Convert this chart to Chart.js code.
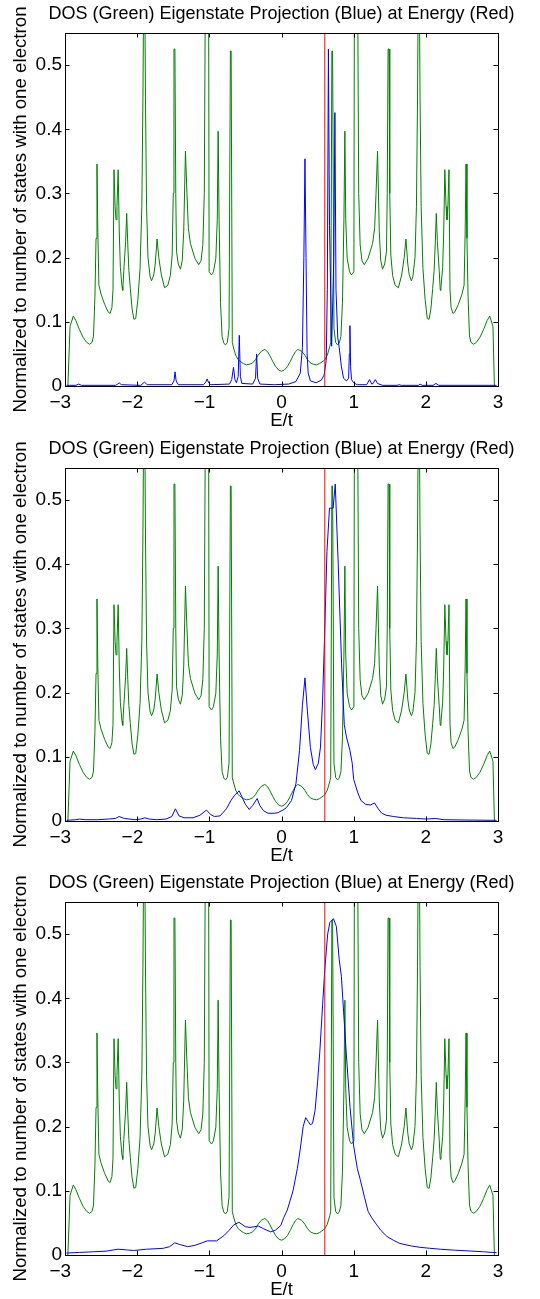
<!DOCTYPE html>
<html>
<head>
<meta charset="utf-8">
<script src="https://cdn.jsdelivr.net/npm/chart.js@4.4.1/dist/chart.umd.min.js"></script>
<style>
  html, body { margin: 0; padding: 0; background: #fff; }
  #wrap { position: relative; width: 540px; height: 1299px; overflow: hidden; background: #fff; }
  canvas { position: absolute; left: 0; }
</style>
</head>
<body>
<div id="wrap">
  <canvas id="c1" width="540" height="433" style="top:-1px"></canvas>
  <canvas id="c2" width="540" height="433" style="top:434px"></canvas>
  <canvas id="c3" width="540" height="433" style="top:868px"></canvas>
</div>
<script>
// ---------- text ----------
const chartTitle = 'DOS (Green) Eigenstate Projection (Blue) at Energy (Red)';
const xTitle = 'E/t';
const yTitle = 'Normalized to number of states with one electron';

// ---------- ticks ----------
const xTickValues = [-3, -2, -1, 0, 1, 2, 3];
const yTickValues = [0, 0.1, 0.2, 0.3, 0.4, 0.5];
const xRange = [-3, 3];
const yRange = [0, 0.55];

// ---------- energy marker (red) ----------
const energyMarker = 0.6;

// ---------- DOS (green), same in all three panels ----------
const dosE = [
  -2.96, -2.93, -2.885, -2.85, -2.80, -2.75, -2.70, -2.66, -2.625, -2.605,
  -2.585, -2.57, -2.557, -2.545, -2.53, -2.50, -2.45, -2.40, -2.375, -2.35,
  -2.335, -2.321, -2.306, -2.293, -2.28, -2.263, -2.248, -2.233, -2.21, -2.20,
  -2.185, -2.16, -2.145, -2.13, -2.115, -2.095, -2.07, -2.045, -2.02, -1.99,
  -1.96, -1.935, -1.92, -1.91, -1.895, -1.885, -1.87, -1.85, -1.82, -1.80,
  -1.77, -1.75, -1.724, -1.70, -1.665, -1.62, -1.575, -1.54, -1.515, -1.50,
  -1.49, -1.477, -1.465, -1.455, -1.43, -1.40, -1.375, -1.355, -1.331, -1.31,
  -1.29, -1.262, -1.20, -1.147, -1.115, -1.09, -1.07, -1.055, -1.01, -1.003,
  -0.97, -0.943, -0.91, -0.89, -0.878, -0.865, -0.845, -0.823, -0.80, -0.777,
  -0.75, -0.727, -0.708, -0.698, -0.682, -0.67, -0.635, -0.60, -0.578, -0.53,
  -0.485, -0.44, -0.40, -0.36, -0.324, -0.28, -0.231, -0.19, -0.16, -0.12,
  -0.08, -0.04, 0.0,
  0.04, 0.08, 0.12, 0.16, 0.19, 0.226, 0.28, 0.324, 0.36, 0.40,
  0.44, 0.485, 0.53, 0.578, 0.60, 0.635, 0.67, 0.682, 0.698, 0.708,
  0.727, 0.75, 0.777, 0.80, 0.823, 0.845, 0.865, 0.878, 0.89, 0.91,
  0.943, 0.97, 1.003, 1.01, 1.055, 1.07, 1.09, 1.115, 1.147, 1.20,
  1.262, 1.29, 1.31, 1.331, 1.355, 1.375, 1.40, 1.43, 1.455, 1.465,
  1.477, 1.49, 1.50, 1.515, 1.54, 1.575, 1.62, 1.665, 1.70, 1.724,
  1.75, 1.77, 1.80, 1.82, 1.85, 1.87, 1.885, 1.895, 1.91, 1.92,
  1.935, 1.96, 1.99, 2.02, 2.045, 2.07, 2.095, 2.115, 2.13, 2.145,
  2.16, 2.185, 2.20, 2.21, 2.233, 2.248, 2.263, 2.28, 2.293, 2.306,
  2.321, 2.335, 2.35, 2.375, 2.40, 2.45, 2.50, 2.53, 2.545, 2.557,
  2.57, 2.585, 2.605, 2.625, 2.66, 2.70, 2.75, 2.80, 2.85, 2.885,
  2.93, 2.95
];
const dosValues = [
  0.0, 0.093, 0.109, 0.102, 0.088, 0.076, 0.068, 0.065, 0.068, 0.078,
  0.14, 0.23, 0.346, 0.24, 0.157, 0.143, 0.127, 0.115, 0.113, 0.122,
  0.15, 0.337, 0.28, 0.259, 0.28, 0.337, 0.24, 0.185, 0.155, 0.149,
  0.18, 0.225, 0.269, 0.22, 0.18, 0.152, 0.12, 0.104, 0.105, 0.135,
  0.183, 0.28, 0.45, 0.62, 0.62, 0.45, 0.28, 0.20, 0.17, 0.164,
  0.173, 0.19, 0.229, 0.2, 0.173, 0.153, 0.157, 0.172, 0.204, 0.3,
  0.525, 0.525, 0.3, 0.21, 0.19, 0.182, 0.196, 0.24, 0.366, 0.30,
  0.245, 0.222, 0.199, 0.189, 0.195, 0.22, 0.30, 0.62, 0.62, 0.178,
  0.173, 0.178, 0.199, 0.26, 0.397, 0.26, 0.13, 0.077, 0.067, 0.064,
  0.068, 0.09, 0.522, 0.522, 0.068, 0.062, 0.048, 0.041, 0.039, 0.035,
  0.033, 0.034, 0.036, 0.041, 0.048, 0.054, 0.057, 0.053, 0.047, 0.038,
  0.030, 0.025, 0.023,
  0.025, 0.030, 0.038, 0.047, 0.053, 0.057, 0.054, 0.048, 0.041, 0.036,
  0.034, 0.033, 0.035, 0.039, 0.041, 0.048, 0.062, 0.068, 0.522, 0.522,
  0.09, 0.068, 0.064, 0.067, 0.077, 0.13, 0.26, 0.397, 0.26, 0.199,
  0.178, 0.173, 0.178, 0.62, 0.62, 0.30, 0.22, 0.195, 0.189, 0.199,
  0.222, 0.245, 0.30, 0.366, 0.24, 0.196, 0.182, 0.19, 0.21, 0.3,
  0.525, 0.525, 0.3, 0.204, 0.172, 0.157, 0.153, 0.173, 0.2, 0.229,
  0.19, 0.173, 0.164, 0.17, 0.20, 0.28, 0.45, 0.62, 0.62, 0.45,
  0.28, 0.183, 0.135, 0.105, 0.104, 0.12, 0.152, 0.18, 0.22, 0.269,
  0.225, 0.18, 0.149, 0.155, 0.185, 0.24, 0.337, 0.28, 0.259, 0.28,
  0.337, 0.15, 0.122, 0.113, 0.115, 0.127, 0.143, 0.157, 0.24, 0.346,
  0.23, 0.14, 0.078, 0.068, 0.065, 0.068, 0.076, 0.088, 0.102, 0.109,
  0.093, 0.0
];

// ---------- eigenstate projection (blue), panel 1 ----------
const proj1E = [
  -2.98, -2.85, -2.81, -2.77, -2.30, -2.27, -2.25, -2.22, -1.95, -1.90,
  -1.86, -1.52, -1.49, -1.475, -1.46, -1.43, -1.08, -1.05, -1.03, -1.01,
  -0.98, -0.72, -0.69, -0.665, -0.645, -0.625, -0.60, -0.585, -0.57, -0.55,
  -0.40, -0.36, -0.345, -0.33, -0.30, -0.10, 0.10, 0.20, 0.26, 0.29,
  0.31, 0.325, 0.34, 0.355, 0.37, 0.40, 0.48, 0.55, 0.59, 0.62,
  0.635, 0.65, 0.665, 0.695, 0.725, 0.74, 0.755, 0.78, 0.80, 0.83,
  0.86, 0.90, 0.93, 0.94, 0.948, 0.958, 0.97, 1.0, 1.05, 1.18,
  1.22, 1.25, 1.27, 1.30, 1.33, 1.40, 1.60, 1.63, 1.66, 1.90,
  1.92, 1.95, 2.10, 2.14, 2.18, 2.98
];
const proj1 = [
  0.001, 0.001, 0.003, 0.001, 0.001, 0.003, 0.005, 0.002, 0.001, 0.006,
  0.002, 0.002, 0.008, 0.022, 0.008, 0.002, 0.002, 0.006, 0.011, 0.005,
  0.002, 0.003, 0.010, 0.029, 0.010, 0.005, 0.015, 0.079, 0.015, 0.004,
  0.003, 0.012, 0.050, 0.012, 0.003, 0.002, 0.003, 0.007, 0.020, 0.060,
  0.20, 0.354, 0.20, 0.05, 0.02, 0.008, 0.005, 0.009, 0.017, 0.04,
  0.15, 0.525, 0.25, 0.062, 0.20, 0.426, 0.15, 0.075, 0.06, 0.03,
  0.012, 0.008, 0.012, 0.05, 0.094, 0.03, 0.01, 0.005, 0.002, 0.002,
  0.010, 0.003, 0.004, 0.010, 0.004, 0.001, 0.001, 0.002, 0.001, 0.001,
  0.003, 0.001, 0.001, 0.004, 0.001, 0.001
];

// ---------- eigenstate projection (blue), panel 2 ----------
const proj2E = [
  -2.98, -2.85, -2.80, -2.72, -2.55, -2.40, -2.30, -2.25, -2.18, -2.03,
  -1.95, -1.895, -1.83, -1.73, -1.60, -1.52, -1.47, -1.42, -1.35, -1.225,
  -1.13, -1.04, -0.98, -0.93, -0.85, -0.763, -0.70, -0.65, -0.587, -0.55,
  -0.50, -0.448, -0.40, -0.337, -0.30, -0.25, -0.185, -0.10, -0.05, 0.02,
  0.07, 0.139, 0.20, 0.25, 0.29, 0.325, 0.36, 0.40, 0.44, 0.47,
  0.51, 0.54, 0.57, 0.60, 0.63, 0.665, 0.715, 0.745, 0.786, 0.832,
  0.87, 0.90, 0.948, 0.98, 1.0, 1.054, 1.10, 1.166, 1.233, 1.29,
  1.34, 1.39, 1.45, 1.55, 1.69, 1.87, 2.01, 2.13, 2.25, 2.57,
  2.98
];
const proj2 = [
  0.001, 0.002, 0.003, 0.002, 0.002, 0.003, 0.004, 0.007, 0.004, 0.002,
  0.003, 0.005, 0.003, 0.002, 0.003, 0.007, 0.019, 0.008, 0.005, 0.005,
  0.009, 0.017, 0.010, 0.007, 0.008, 0.019, 0.032, 0.040, 0.047, 0.038,
  0.026, 0.018, 0.024, 0.035, 0.024, 0.016, 0.012, 0.012, 0.013, 0.017,
  0.021, 0.032, 0.058, 0.11, 0.18, 0.223, 0.17, 0.115, 0.088, 0.080,
  0.090, 0.115, 0.19, 0.30, 0.42, 0.4875, 0.4875, 0.525, 0.40, 0.246,
  0.15, 0.131, 0.11, 0.09, 0.065, 0.045, 0.032, 0.026, 0.025, 0.028,
  0.019, 0.012, 0.009, 0.007, 0.005, 0.004, 0.003, 0.004, 0.002, 0.0015,
  0.001
];

// ---------- eigenstate projection (blue), panel 3 ----------
const proj3E = [
  -2.98, -2.80, -2.61, -2.43, -2.265, -2.15, -2.05, -1.87, -1.64, -1.55,
  -1.48, -1.40, -1.30, -1.20, -1.10, -1.03, -0.90, -0.80, -0.73, -0.66,
  -0.59, -0.50, -0.435, -0.32, -0.25, -0.15, -0.08, -0.01, 0.03, 0.08,
  0.16, 0.22, 0.26, 0.30, 0.335, 0.37, 0.40, 0.43, 0.465, 0.50,
  0.53, 0.57, 0.60, 0.64, 0.67, 0.72, 0.76, 0.80, 0.83, 0.86,
  0.90, 0.95, 1.0, 1.05, 1.09, 1.15, 1.20, 1.25, 1.32, 1.38,
  1.46, 1.55, 1.64, 1.80, 1.92, 2.05, 2.20, 2.40, 2.57, 2.80,
  2.98
];
const proj3 = [
  0.003, 0.004, 0.005, 0.006, 0.009, 0.008, 0.007, 0.009, 0.0104, 0.013,
  0.019, 0.016, 0.013, 0.015, 0.019, 0.022, 0.022, 0.030, 0.038, 0.047,
  0.051, 0.044, 0.043, 0.045, 0.041, 0.036, 0.039, 0.046, 0.058, 0.070,
  0.100, 0.135, 0.165, 0.200, 0.214, 0.208, 0.203, 0.205, 0.225, 0.270,
  0.315, 0.39, 0.445, 0.50, 0.518, 0.524, 0.512, 0.46, 0.434, 0.38,
  0.31, 0.23, 0.17, 0.135, 0.118, 0.09, 0.068, 0.058, 0.047, 0.038,
  0.029, 0.023, 0.018, 0.014, 0.012, 0.0105, 0.009, 0.0075, 0.0065, 0.005,
  0.0036
];

// ---------- rendering ----------
const FONT = "'Liberation Sans', Arial, Helvetica, sans-serif";
Chart.defaults.font.family = FONT;
Chart.defaults.color = '#000';

const toPoints = (xs, ys) => xs.map((x, i) => ({ x: x, y: ys[i] }));

const frameTicks = {
  id: 'frameTicks',
  afterLayout(chart) {
    // widen the title box (kept centred on the plot) so the text is not squeezed
    const tb = chart.titleBlock;
    if (tb) { tb.left -= 60; tb.right += 60; tb.width = tb.right - tb.left; }
  },
  afterDraw(chart) {
    const { ctx, chartArea: a, scales: { x, y } } = chart;
    const L = 4.5;
    ctx.save();
    ctx.strokeStyle = '#000';
    ctx.lineWidth = 1;
    ctx.beginPath();
    x.ticks.forEach(t => {
      const px = Math.round(x.getPixelForValue(t.value)) + 0.5;
      ctx.moveTo(px, a.bottom); ctx.lineTo(px, a.bottom - L);
      ctx.moveTo(px, a.top); ctx.lineTo(px, a.top + L);
    });
    y.ticks.forEach(t => {
      const py = Math.round(y.getPixelForValue(t.value)) + 0.5;
      ctx.moveTo(a.left, py); ctx.lineTo(a.left + L, py);
      ctx.moveTo(a.right, py); ctx.lineTo(a.right - L, py);
    });
    ctx.stroke();
    ctx.strokeRect(a.left + 0.5, a.top + 0.5, a.right - a.left, a.bottom - a.top);
    ctx.restore();
  }
};

function makeChart(id, projE, proj) {
  return new Chart(document.getElementById(id), {
    type: 'line',
    data: {
      datasets: [
        { label: 'Energy', data: [{ x: energyMarker, y: yRange[0] }, { x: energyMarker, y: yRange[1] }],
          borderColor: 'rgb(255,0,0)', borderWidth: 1, pointRadius: 0, tension: 0 },
        { label: 'Projection', data: toPoints(projE, proj),
          borderColor: 'rgb(0,0,255)', borderWidth: 1, pointRadius: 0, tension: 0 },
        { label: 'DOS', data: toPoints(dosE, dosValues),
          borderColor: 'rgb(0,128,0)', borderWidth: 1, pointRadius: 0, tension: 0 }
      ]
    },
    options: {
      responsive: false,
      animation: false,
      devicePixelRatio: 1,
      layout: { padding: { left: 0, right: 42, top: 0, bottom: 0 } },
      plugins: {
        legend: { display: false },
        tooltip: { enabled: false },
        title: {
          display: true, text: chartTitle, fullSize: false,
          font: { family: FONT, size: 18, weight: 'normal', lineHeight: 1.2 }, color: '#000',
          padding: { top: 4.2, bottom: 8.2 }
        }
      },
      scales: {
        x: {
          type: 'linear', min: xRange[0], max: xRange[1],
          afterBuildTicks: s => { s.ticks = xTickValues.map(v => ({ value: v })); },
          afterFit: s => { s.height = 46; },
          grid: { display: false, drawTicks: false },
          border: { display: false },
          ticks: {
            font: { family: FONT, size: 19, lineHeight: 1.2 }, color: '#000', padding: 5, maxRotation: 0,
            callback: v => v < 0 ? '\u2212' + Math.abs(v) + '\u2002' : String(v)
          },
          title: { display: true, text: xTitle, font: { family: FONT, size: 18.5, lineHeight: 1.2 }, color: '#000',
                   padding: { top: 0, bottom: 0 } }
        },
        y: {
          type: 'linear', min: yRange[0], max: yRange[1],
          afterBuildTicks: s => { s.ticks = yTickValues.map(v => ({ value: v })); },
          afterFit: s => { s.width = 65; },
          grid: { display: false, drawTicks: false },
          border: { display: false },
          ticks: {
            font: { family: FONT, size: 19, lineHeight: 1.2 }, color: '#000', padding: 3,
            callback: v => String(Math.round(v * 100) / 100)
          },
          title: { display: true, text: yTitle, font: { family: FONT, size: 18.7, lineHeight: 1.2 }, color: '#000',
                   padding: { top: 9.8, bottom: 0 } }
        }
      }
    },
    plugins: [frameTicks]
  });
}

makeChart('c1', proj1E, proj1);
makeChart('c2', proj2E, proj2);
makeChart('c3', proj3E, proj3);
</script>
</body>
</html>
